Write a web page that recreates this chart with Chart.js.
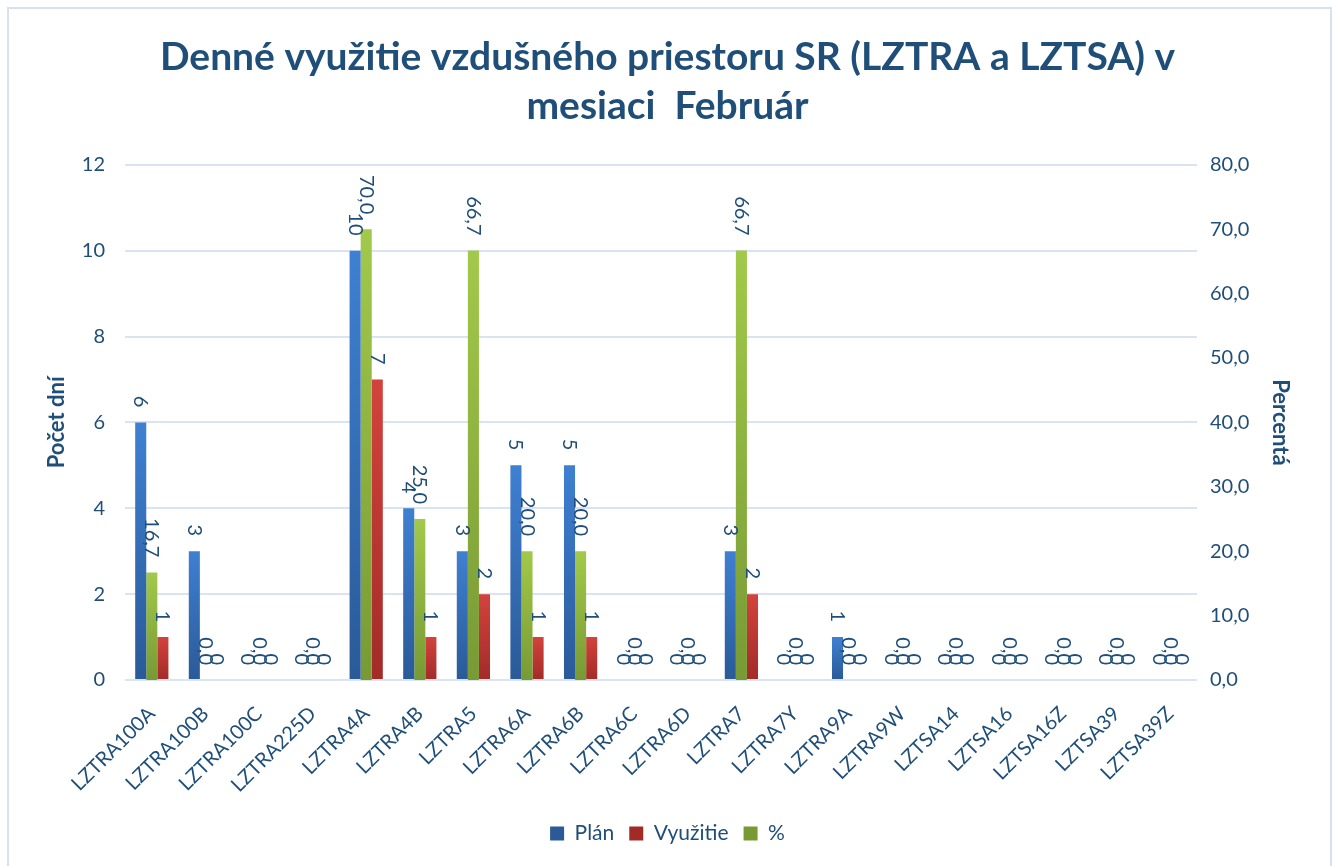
<!DOCTYPE html>
<html>
<head>
<meta charset="utf-8">
<script src="https://cdn.jsdelivr.net/npm/chart.js@4.4.1/dist/chart.umd.min.js"></script>
<style>
  html, body { margin: 0; padding: 0; background: #ffffff; overflow: hidden; }
  #wrap { position: relative; width: 1335px; height: 866px; }
  #frame { position: absolute; left: 7px; top: 7px; width: 1321px; height: 900px; border: 2px solid #d6e1f2; pointer-events: none; }
  canvas { position: absolute; left: 0; top: 0; }
</style>
</head>
<body>
<div id="wrap">
  <canvas id="c" width="1335" height="866"></canvas>
  <div id="frame"></div>
</div>
<script>
const categories = ["LZTRA100A","LZTRA100B","LZTRA100C","LZTRA225D","LZTRA4A","LZTRA4B","LZTRA5","LZTRA6A","LZTRA6B","LZTRA6C","LZTRA6D","LZTRA7","LZTRA7Y","LZTRA9A","LZTRA9W","LZTSA14","LZTSA16","LZTSA16Z","LZTSA39","LZTSA39Z"];
const planValues = [6,3,0,0,10,4,3,5,5,0,0,3,0,1,0,0,0,0,0,0];
const vyuzitieValues = [1,0,0,0,7,1,2,1,1,0,0,2,0,0,0,0,0,0,0,0];
const percentValues = [16.7,0,0,0,70.0,25.0,66.7,20.0,20.0,0,0,66.7,0,0,0,0,0,0,0,0];
const leftTicks = [0,2,4,6,8,10,12];
const rightTicks = [0,10,20,30,40,50,60,70,80];

const TEXT = '#1F4E79';
const FONT = 'Lato';

function grad(top, bottom, solid) {
  return function(ctx) {
    const chart = ctx.chart;
    const area = chart.chartArea;
    if (!area || ctx.type !== 'data') return solid;
    const scale = chart.scales[ctx.dataset.yAxisID];
    const v = ctx.raw || 0;
    const yTop = scale.getPixelForValue(v);
    const yBase = scale.getPixelForValue(0);
    if (!(yBase > yTop + 0.5)) return solid;
    const g = chart.ctx.createLinearGradient(0, yTop, 0, yBase);
    g.addColorStop(0, top);
    g.addColorStop(1, bottom);
    return g;
  };
}

const labelPlugin = {
  id: 'barLabels',
  afterDatasetsDraw(chart) {
    const c = chart.ctx;
    c.save();
    c.font = '20px ' + FONT;
    c.fillStyle = TEXT;
    c.textAlign = 'right';
    c.textBaseline = 'middle';
    chart.data.datasets.forEach((ds, i) => {
      const meta = chart.getDatasetMeta(i);
      meta.data.forEach((bar, j) => {
        const v = ds.data[j];
        const txt = ds.isPercent ? v.toFixed(1).replace('.', ',') : String(v);
        c.save();
        c.translate(bar.x, bar.y - 15);
        c.rotate(Math.PI / 2);
        c.fillText(txt, 0, 0);
        c.restore();
      });
    });
    c.restore();
  }
};

const legendOrder = {0: 0, 2: 1, 1: 2};

new Chart(document.getElementById('c'), {
  type: 'bar',
  data: {
    labels: categories,
    datasets: [
      { label: 'Plán', data: planValues, yAxisID: 'y', backgroundColor: grad('#3f80d2', '#2a5a98', '#3670bb') },
      { label: '%', data: percentValues, yAxisID: 'y1', isPercent: true, backgroundColor: grad('#a2c94a', '#779a35', '#8db540') },
      { label: 'Využitie', data: vyuzitieValues, yAxisID: 'y', backgroundColor: grad('#d3433d', '#a22b28', '#be3833') }
    ]
  },
  options: {
    responsive: false,
    devicePixelRatio: 1,
    animation: false,
    categoryPercentage: 0.62,
    barPercentage: 1.0,
    layout: { padding: { top: 10, left: 8, right: 8, bottom: 12 } },
    plugins: {
      title: {
        display: true,
        text: ['Denné využitie vzdušného priestoru SR (LZTRA a LZTSA) v', 'mesiaci  Február'],
        color: TEXT,
        font: { family: FONT, size: 39, weight: 'bold', lineHeight: 1.28 },
        padding: { top: 22, bottom: 33 }
      },
      legend: {
        position: 'bottom',
        labels: {
          color: TEXT,
          font: { family: FONT, size: 21 },
          boxWidth: 14,
          boxHeight: 14,
          padding: 15,
          sort: (a, b) => legendOrder[a.datasetIndex] - legendOrder[b.datasetIndex]
        }
      },
      tooltip: { enabled: false }
    },
    scales: {
      x: {
        grid: { display: false },
        border: { display: false },
        ticks: { color: TEXT, font: { family: FONT, size: 20 }, minRotation: 45, maxRotation: 45, padding: 14, autoSkip: false },
        afterFit: (s) => { s.height = 128; }
      },
      y: {
        position: 'left',
        min: 0, max: 12,
        afterBuildTicks: (s) => { s.ticks = leftTicks.map(v => ({ value: v })); },
        grid: { color: '#d9e3f2', lineWidth: 2, drawTicks: false },
        border: { display: false },
        ticks: { color: TEXT, font: { family: FONT, size: 20 }, padding: 20 },
        title: { display: true, text: 'Počet dní', color: TEXT, font: { family: FONT, size: 22, weight: 'bold' }, padding: { top: 36, bottom: 0 } },
        afterFit: (s) => { s.width = 117; }
      },
      y1: {
        position: 'right',
        min: 0, max: 80,
        afterBuildTicks: (s) => { s.ticks = rightTicks.map(v => ({ value: v })); },
        grid: { display: false, drawTicks: false },
        border: { display: false },
        ticks: { color: TEXT, font: { family: FONT, size: 20 }, padding: 13, callback: (v) => Number(v).toFixed(1).replace('.', ',') },
        title: { display: true, text: 'Percentá', color: TEXT, font: { family: FONT, size: 22, weight: 'bold' }, padding: { top: 34, bottom: 0 } },
        afterFit: (s) => { s.width = 130; }
      }
    }
  },
  plugins: [labelPlugin]
});
</script>
</body>
</html>
